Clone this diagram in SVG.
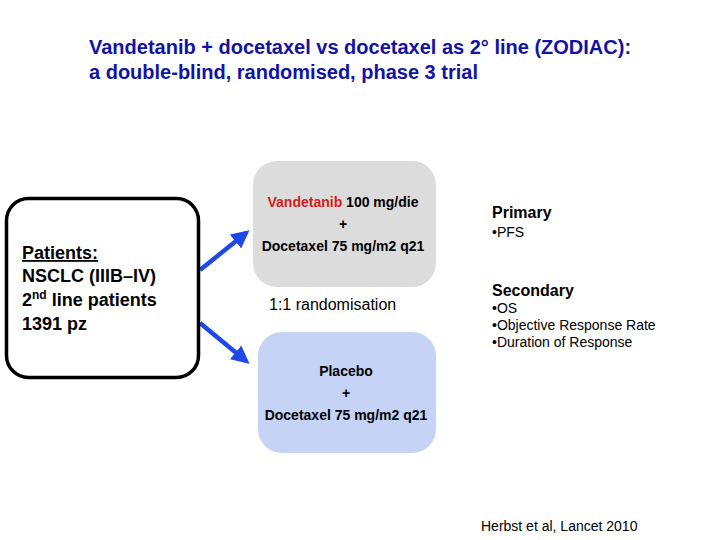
<svg xmlns="http://www.w3.org/2000/svg" width="720" height="540" viewBox="0 0 720 540">
<style>
text{font-family:"Liberation Sans",Arial,sans-serif;}
.title{font-size:20px;font-weight:bold;fill:#1212a6;}
.pat{font-size:18px;font-weight:bold;fill:#000;}
.arm{font-size:14px;font-weight:bold;fill:#000;text-anchor:middle;}
.hd{font-size:16px;font-weight:bold;fill:#000;}
.it{font-size:14px;fill:#000;}
.conn{stroke:#1f48e8;stroke-width:4.5;fill:none;marker-end:url(#ah);}
</style>
<defs>
<marker id="ah" markerWidth="4" markerHeight="4" refX="3" refY="2" orient="auto" markerUnits="strokeWidth">
<path d="M0,0 L4,2 L0,4 z" fill="#1f48e8"/>
</marker>
</defs>
<rect width="720" height="540" fill="#fff"/>
<g id="title">
<text class="title" x="89" y="54">Vandetanib + docetaxel vs docetaxel as 2° line (ZODIAC):</text>
<text class="title" x="89" y="79">a double-blind, randomised, phase 3 trial</text>
</g>
<g id="connectors">
<line class="conn" x1="200" y1="270" x2="246" y2="233"/>
<line class="conn" x1="200" y1="323" x2="246" y2="361"/>
</g>
<g id="patients">
<rect x="6.5" y="198.5" width="192" height="179" rx="22" fill="#fff" stroke="#000" stroke-width="3.5"/>
<text class="pat" x="22" y="259" text-decoration="underline">Patients:</text>
<text class="pat" x="22" y="282">NSCLC (IIIB–IV)</text>
<text class="pat" x="22" y="306">2<tspan font-size="12" dy="-7">nd</tspan><tspan dy="7"> line patients</tspan></text>
<text class="pat" x="22" y="330">1391 pz</text>
</g>
<g id="arm-vandetanib">
<rect x="253" y="161" width="183" height="126" rx="24" fill="#dcdcdc"/>
<text class="arm" x="343" y="207"><tspan fill="#d21c1c">Vandetanib</tspan> 100 mg/die</text>
<text class="arm" x="343" y="229">+</text>
<text class="arm" x="343" y="251">Docetaxel 75 mg/m2 q21</text>
</g>
<text id="randomisation" x="269" y="310" font-size="16" fill="#000" style="font-family:'Liberation Sans',Arial,sans-serif">1:1 randomisation</text>
<g id="arm-placebo">
<rect x="258" y="332" width="178" height="121" rx="24" fill="#c5d3f6"/>
<text class="arm" x="346" y="376">Placebo</text>
<text class="arm" x="346" y="398">+</text>
<text class="arm" x="346" y="420">Docetaxel 75 mg/m2 q21</text>
</g>
<g id="endpoints">
<text class="hd" x="492" y="218">Primary</text>
<text class="it" x="492" y="237">•PFS</text>
<text class="hd" x="492" y="296">Secondary</text>
<text class="it" x="492" y="313">•OS</text>
<text class="it" x="492" y="330">•Objective Response Rate</text>
<text class="it" x="492" y="347">•Duration of Response</text>
</g>
<text id="citation" x="481" y="531" font-size="14" fill="#000" style="font-family:'Liberation Sans',Arial,sans-serif">Herbst et al, Lancet 2010</text>
</svg>
